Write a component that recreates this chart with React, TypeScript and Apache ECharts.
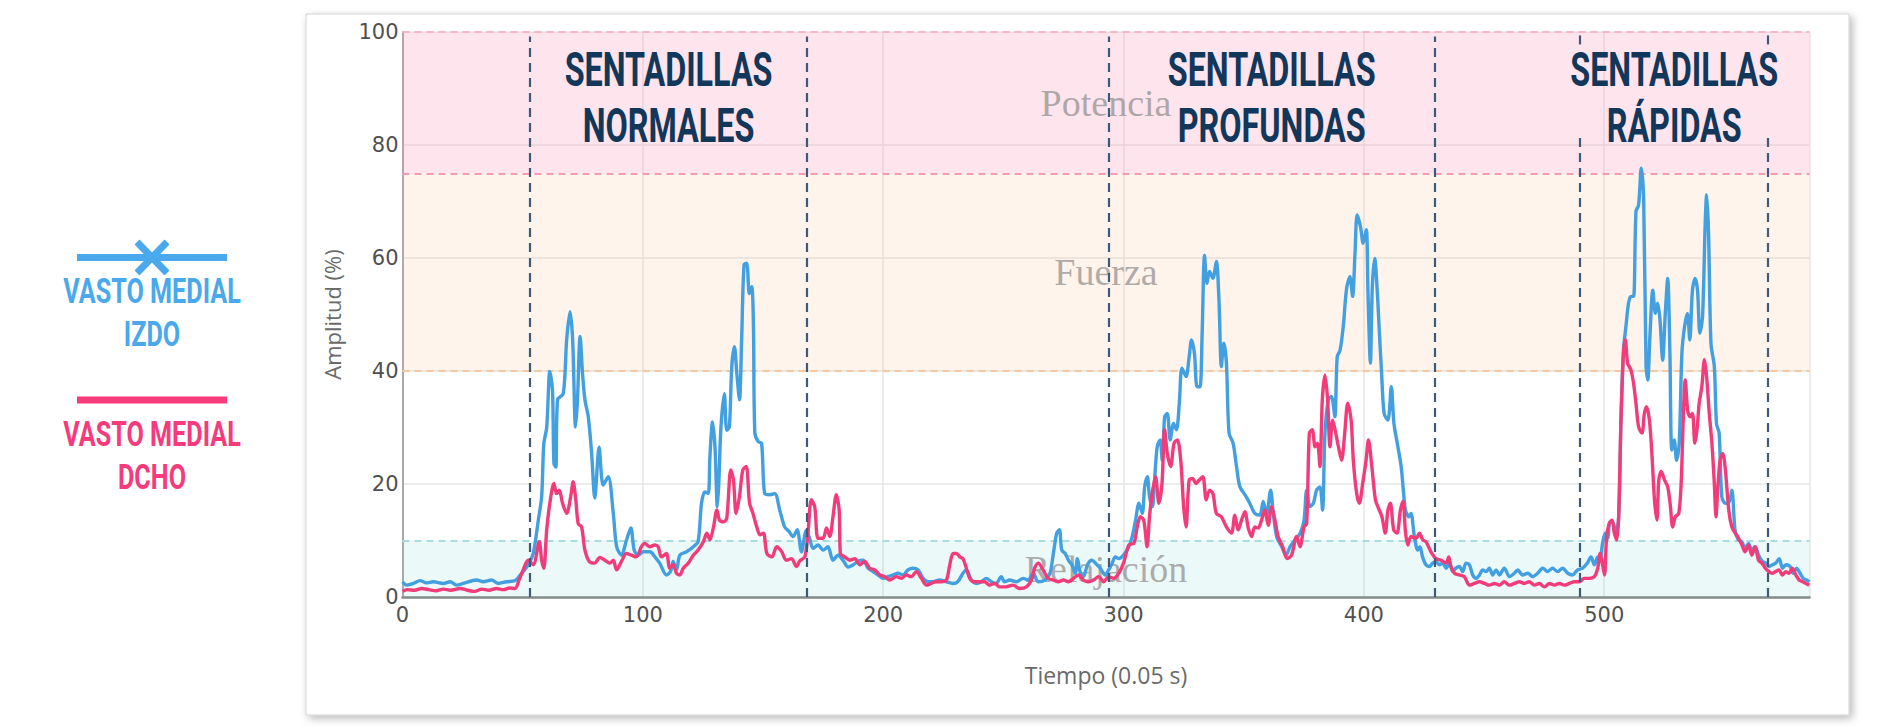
import React, { useEffect, useRef } from "react";
import * as echarts from "echarts";

// ---------- DATA ----------
const X_MAX = 585.4;
const Y_TICKS = [0, 20, 40, 60, 80, 100];

// Vasto medial izquierdo (blue) : [tiempo, amplitud]
const IZDO: [number, number][] = [
  [0, 2.7], [1.7, 2.1], [4.5, 2.4], [7.3, 2.9], [10, 2.5], [12.8, 2.7], [17, 2.4], [19.8, 2.7], [22.5, 2.1], [25.3, 2.4],
  [30.8, 3.0], [33.6, 2.7], [37, 3.0], [39.8, 2.4], [43.3, 2.7], [46.8, 2.9], [48.5, 3.6], [52.3, 5.7], [54.4, 7.7], [56.5, 13.6],
  [57.9, 17.8], [58.8, 27.2], [60, 30], [61.3, 39.9], [62.4, 36.6], [63, 23.7], [63.8, 23], [64.5, 34.9], [66.9, 36], [68.3, 45.5],
  [69.7, 50.5], [70.8, 45.5], [72, 30.1], [72.8, 34.9], [73.9, 46.1], [74.9, 39.6], [75.9, 34.9], [77.3, 31.9], [78.7, 25.4], [80, 17.5],
  [81.8, 26.5], [83.5, 19.8], [85.6, 21.3], [87.7, 14.8], [89.1, 8.9], [91.1, 7.4], [93.2, 10.1], [95, 12.2], [96.4, 8.3], [98, 7.4],
  [100.2, 8.0], [103, 8.0], [105, 7.1], [107, 6.0], [109.8, 3.9], [111.5, 4.5], [112.6, 6.3], [114, 4.8], [115.4, 7.4], [118.2, 8.0],
  [121, 8.9], [123, 9.8], [124.4, 16.6], [125.8, 18.6], [127.2, 18.3], [127.9, 24.8], [129, 31.0], [130, 26.6], [131, 16.0], [131.6, 20.1],
  [132.5, 30.1], [133.9, 36.0], [134.9, 29.5], [136, 30.1], [137, 40.8], [138.1, 44.3], [139.1, 39.6], [140.2, 34.9], [141.1, 45.5], [142.1, 58.8],
  [143.2, 59.1], [144.3, 53.7], [145.3, 54.9], [146, 48.4], [146.6, 29.0], [148, 27.5], [149.4, 27.2], [150.7, 18.3], [152.8, 18.1], [154.9, 18.3],
  [157, 15.3], [159, 12.4], [160.8, 11.6], [162.5, 10.7], [164.2, 11.9], [166, 8.0], [168, 11.8], [169.4, 10.4], [170.8, 8.6], [172.9, 9.2],
  [175, 8.3], [177, 8.9], [179.1, 6.5], [181.2, 7.4], [183.3, 6.5], [185.4, 5.3], [187.5, 5.7], [189.5, 6.3], [191.6, 6.5], [193.7, 5.1],
  [195.8, 4.5], [197.9, 3.9], [200, 3.3], [202, 3.6], [204.1, 3.9], [206.2, 4.2], [208.3, 3.9], [210.3, 4.8], [212.4, 5.1], [214.5, 4.8],
  [216.6, 3.3], [218.7, 2.7], [220.7, 2.7], [223.5, 3.0], [226.3, 2.7], [229, 2.4], [231, 2.7], [233.2, 4.2], [234.6, 4.8], [236.7, 3.0],
  [238.8, 2.4], [240.8, 2.7], [242.9, 3.3], [245, 2.7], [247, 2.4], [249.1, 3.6], [250.5, 2.7], [252.6, 3.0], [255.4, 2.7], [258.2, 3.3],
  [260.3, 3.0], [262.4, 4.2], [264.5, 2.7], [267.3, 3.0], [269.4, 4.2], [270.8, 7.7], [272.2, 11.3], [273.3, 11.9], [274.3, 8.3], [275.7, 7.7],
  [277.1, 6.5], [278.5, 5.7], [279.9, 4.2], [280.8, 6.8], [281.9, 4.5], [283.3, 3.6], [285, 5.7], [286.8, 6.5], [288.9, 5.7], [290.3, 5.1],
  [292.4, 3.9], [293.8, 4.8], [295, 5.7], [296.6, 7.1], [298, 6.8], [300, 7.4], [302.2, 8.9], [303.6, 10.7], [305, 13.6], [306.4, 16.6],
  [307.8, 14.8], [308.8, 19.5], [309.9, 21.3], [310.8, 17.8], [312, 16.0], [312.9, 20.7], [314, 26.6], [315.2, 27.8], [316.1, 24.2], [317.1, 31.9],
  [318.2, 32.5], [319.4, 27.8], [320.8, 30.7], [322, 29.6], [323.2, 34.3], [324.3, 40.5], [326, 39.0], [327.3, 42.5], [328.3, 45.5], [329.5, 43.1],
  [330.6, 37.2], [331.8, 37.2], [332.7, 46.7], [333.7, 60.5], [334.7, 55.5], [335.8, 57.6], [337.2, 56.4], [338.6, 59.4], [339.7, 52.6], [340.7, 40.8],
  [341.7, 44.9], [342.8, 41.4], [343.9, 29.0], [345.6, 27.2], [347, 23.1], [348.4, 19.5], [350.5, 18.1], [352.5, 16.6], [354.6, 14.8], [356.7, 14.5],
  [358.1, 16.9], [359.5, 14.5], [361.2, 18.9], [362.3, 14.8], [363.7, 10.7], [365.8, 8.9], [367.6, 7.4], [369.3, 8.9], [371.4, 10.1], [373.5, 11.3],
  [375.1, 13.6], [376.2, 18.9], [377.6, 16.0], [379, 16.6], [380.3, 18.9], [381.7, 19.5], [382.8, 15.4], [383.8, 29.0], [385.2, 34.9], [386.5, 35.5],
  [387.9, 31.9], [388.9, 42.5], [390.1, 43.7], [391.4, 47.8], [392.8, 54.6], [394.2, 56.7], [395.3, 53.2], [396.3, 60.8], [397.2, 67.6], [398.6, 65.5],
  [399.7, 62.6], [401, 65.0], [401.7, 53.8], [402.7, 41.4], [403.5, 54.9], [404.5, 59.9], [405.6, 53.8], [406.6, 45.5], [407.3, 40.2], [408.4, 32.5],
  [410, 31.3], [411.4, 37.2], [412.5, 30.7], [413.9, 27.2], [415.5, 23.1], [416.5, 18.5], [417.3, 15.4], [418.7, 14.2], [419.6, 14.8], [421, 10.7],
  [422.4, 8.3], [423.3, 8.9], [424.4, 7.1], [425.8, 5.7], [427.2, 5.4], [428.6, 6.0], [430, 6.3], [431.4, 5.7], [432.8, 6.0], [434.2, 5.1],
  [435.6, 6.0], [437, 4.5], [438.3, 5.1], [439.7, 5.4], [441.1, 4.5], [442.5, 6.0], [443.9, 5.7], [445.3, 3.9], [446.7, 3.3], [448.1, 3.9],
  [449.4, 4.8], [450.8, 4.5], [452.2, 5.1], [453.6, 3.9], [455, 4.8], [456.4, 3.9], [458.4, 5.1], [460.6, 3.6], [462.6, 4.2], [464, 4.8],
  [466, 3.9], [468.2, 4.2], [470.2, 3.6], [472.3, 4.2], [474.4, 5.1], [476.4, 4.5], [478.5, 5.1], [480.6, 4.5], [482.7, 5.1], [484.8, 4.2],
  [486.8, 3.9], [488.9, 4.8], [491, 5.1], [493, 6.0], [494.5, 7.1], [495.9, 5.7], [497.3, 7.1], [498.2, 6.5], [499.3, 9.5], [500.4, 11.3],
  [501.4, 10.4], [502.4, 13.3], [503.8, 13.0], [504.9, 11.3], [506, 14.2], [507, 31.9], [508, 43.7], [509, 47.8], [510.1, 52.0], [511.1, 53.2],
  [512.2, 53.2], [513.2, 68.2], [514.3, 69.4], [515.4, 75.9], [516.4, 70.3], [517.4, 40.8], [518.1, 38.4], [519, 46.1], [520.2, 54.3], [521.3, 50.2],
  [522.2, 52.0], [523.2, 49.0], [524.3, 41.9], [525.4, 50.2], [526.4, 56.4], [527.3, 43.7], [528.1, 26.0], [529.1, 27.8], [530.1, 24.2], [531.2, 27.2],
  [532.3, 43.1], [533.4, 47.8], [534.6, 50.2], [535.6, 45.5], [536.7, 54.3], [537.8, 56.4], [538.8, 54.3], [539.8, 46.7], [540.9, 49.6], [542, 66.1],
  [542.6, 71.2], [543.4, 64.4], [544.4, 44.9], [545.8, 40.8], [546.7, 30.7], [547.8, 29.0], [548.9, 17.8], [550.3, 16.6], [551.7, 16.6], [553.1, 18.9],
  [554.4, 11.9], [555.8, 10.1], [557.2, 9.8], [558.6, 8.6], [560, 9.5], [561.4, 8.3], [562.8, 8.9], [564.2, 7.4], [565.8, 6.3], [567.2, 6.0],
  [568.6, 5.4], [570, 5.7], [571.4, 6.0], [572.8, 6.8], [574.2, 5.1], [575.6, 5.7], [577.3, 5.4], [578.6, 4.2], [580, 5.1], [581.5, 4.2],
  [582.8, 3.3], [584.2, 3.0], [585.4, 2.7],
];

// Vasto medial derecho (pink) : [tiempo, amplitud]
const DCHO: [number, number][] = [
  [0, 1.0], [2, 1.3], [5, 1.2], [8, 1.5], [11, 1.3], [14, 1.1], [17, 1.4], [20, 1.2], [24, 1.5], [27, 1.2],
  [30, 1.0], [33, 1.4], [36, 1.2], [39, 1.5], [42, 1.3], [44.5, 1.6], [46.8, 1.5], [48.5, 3.0], [50.2, 4.8], [52.3, 6.5],
  [54.4, 5.7], [56.9, 9.8], [57.9, 6.5], [58.8, 5.1], [60, 11.9], [61.3, 16.6], [63, 20.1], [64.1, 18.3], [65.2, 18.9], [66.6, 16.6],
  [68.3, 14.8], [70, 17.8], [71, 20.4], [72.1, 17.2], [73.1, 13.0], [74.5, 12.4], [75.9, 8.3], [77.7, 6.3], [80, 6.0], [82.1, 7.0],
  [84.2, 6.5], [86.3, 6.0], [87.7, 6.5], [89.1, 4.8], [91.1, 6.3], [93.2, 7.7], [95.2, 7.4], [97.3, 7.1], [99.4, 8.9], [100.8, 9.5],
  [102.9, 8.9], [105, 9.2], [106.4, 8.9], [107.7, 7.1], [109.8, 7.7], [111.2, 5.1], [112.6, 5.7], [114, 4.2], [115.4, 3.9], [116.8, 5.1],
  [118.9, 6.0], [121, 7.4], [123, 8.3], [125.2, 9.8], [126.6, 11.3], [127.9, 10.1], [129.4, 12.4], [130.8, 15.4], [131.9, 13.6], [133.6, 13.3],
  [134.9, 13.9], [136.6, 22.5], [137.7, 20.7], [138.8, 14.8], [140.2, 17.8], [141.6, 22.5], [143, 23.1], [144.4, 16.6], [145.8, 14.8], [147.4, 12.4],
  [148.8, 11.0], [150.2, 11.3], [151.6, 7.7], [153.7, 7.1], [155.7, 8.9], [157.8, 8.0], [159.7, 6.5], [161.8, 6.8], [163.9, 5.4], [165.3, 6.4],
  [167.4, 7.1], [168.7, 11.3], [170.1, 17.2], [171.5, 16.0], [172.9, 10.4], [175, 10.4], [176.4, 12.2], [177.8, 10.7], [179.1, 14.2], [180.5, 18.1],
  [181.7, 15.3], [182.2, 7.7], [184, 7.1], [186.1, 6.5], [188.2, 6.8], [190.3, 5.7], [192.3, 6.3], [194.4, 5.1], [196.5, 4.8], [198.6, 3.9],
  [200.7, 3.6], [202.7, 3.0], [205.5, 3.6], [207.6, 3.3], [209.6, 3.9], [211.7, 3.6], [213.8, 4.5], [215.9, 3.3], [218, 2.1], [220, 2.4],
  [222.1, 2.7], [224.2, 2.7], [226.3, 3.0], [227.7, 5.7], [229.1, 7.7], [230.5, 7.7], [231.9, 7.1], [233.2, 6.8], [234.6, 5.1], [236, 3.3],
  [238, 2.7], [240.1, 2.7], [242.2, 2.7], [244.3, 2.1], [246.4, 2.4], [248.4, 1.8], [251.2, 1.8], [254, 2.1], [256.8, 1.5], [259.6, 1.8],
  [261.7, 3.0], [263, 5.1], [264.5, 6.0], [266.5, 4.8], [268.6, 3.3], [270.8, 3.0], [272.9, 2.7], [275, 3.0], [277.1, 2.7], [279.2, 3.3],
  [281.3, 3.9], [283.3, 3.0], [285.4, 2.7], [287.5, 3.0], [289.6, 3.6], [291.7, 2.7], [293.8, 3.6], [295.9, 3.3], [298, 4.2], [300, 6.0],
  [302.2, 9.2], [304.3, 9.5], [305.7, 12.4], [307, 14.2], [308.4, 13.6], [309.8, 8.9], [310.8, 14.2], [311.9, 18.3], [313.3, 21.3], [314.7, 16.6],
  [316, 20.1], [317.1, 29.6], [318.2, 25.4], [319.6, 23.1], [321, 27.2], [322.4, 27.8], [323.8, 24.2], [325, 16.0], [326, 12.4], [327.3, 20.7],
  [328.7, 21.0], [330.1, 20.1], [331.5, 20.7], [333, 21.3], [334.4, 17.2], [335.8, 18.9], [337.2, 18.3], [338.6, 14.8], [340.7, 14.2], [342.8, 12.4],
  [344.9, 11.3], [346.3, 14.5], [347.7, 11.9], [349.1, 13.6], [350.5, 15.1], [351.9, 12.2], [353.3, 10.7], [354.6, 12.4], [356, 12.2], [357.4, 13.6],
  [358.8, 15.4], [360.2, 12.7], [361.6, 16.0], [363, 13.6], [364.3, 10.7], [366.2, 8.9], [368.1, 6.8], [369.9, 7.4], [372, 10.7], [373.4, 8.9],
  [375.1, 12.4], [376.2, 13.0], [377.3, 29.0], [378.5, 29.6], [379.7, 26.6], [380.7, 27.2], [381.7, 23.1], [382.7, 34.9], [383.8, 39.3], [384.9, 34.9],
  [385.9, 26.6], [387, 31.3], [388, 29.6], [389.4, 26.6], [390.7, 24.2], [391.9, 28.4], [393.3, 34.3], [394.7, 31.3], [395.6, 24.2], [397, 18.3],
  [398.1, 16.6], [399.5, 20.1], [400.9, 24.2], [401.9, 27.8], [403.3, 23.1], [404.8, 17.2], [406.1, 15.7], [407.5, 14.2], [408.9, 11.3], [410, 15.4],
  [411, 16.6], [412.4, 11.9], [413.8, 11.3], [415.2, 15.4], [416.3, 16.9], [417.3, 11.5], [418.3, 9.2], [419.6, 10.7], [421.7, 10.4], [423.1, 11.3],
  [424.5, 10.1], [425.8, 9.8], [427.9, 8.0], [430, 6.8], [432.1, 6.5], [434.2, 6.0], [435.3, 7.1], [436.2, 5.4], [437.7, 4.2], [439.7, 3.9],
  [441.8, 3.6], [443.9, 2.1], [446, 2.4], [448.1, 2.7], [450.2, 2.4], [452.2, 2.1], [454.3, 2.4], [456.4, 2.1], [458.4, 2.7], [460.6, 2.1],
  [462.6, 2.4], [464.7, 2.7], [466.8, 2.4], [468.8, 2.7], [471, 2.1], [473, 2.4], [475.1, 1.8], [477.2, 2.4], [479.2, 2.1], [481.3, 2.4],
  [483.4, 2.1], [485.5, 2.4], [487.6, 2.7], [489.6, 2.7], [491.7, 3.3], [493.8, 3.3], [495.9, 3.6], [497.3, 5.1], [498.3, 7.7], [499.2, 6.0],
  [500.1, 3.9], [501, 10.7], [502.1, 13.0], [503.2, 13.6], [504.2, 11.3], [505.2, 10.1], [506, 14.2], [507, 31.9], [508, 43.1], [508.8, 45.5],
  [509.7, 41.4], [511.1, 40.2], [512.2, 37.8], [513.2, 34.3], [514.3, 30.1], [515.7, 29.0], [516.7, 32.5], [517.6, 33.7], [518.8, 31.3], [519.9, 24.8],
  [520.9, 17.2], [521.9, 13.6], [522.7, 20.7], [523.7, 22.2], [525.1, 20.7], [526.4, 19.5], [527.4, 16.6], [528.5, 12.4], [529.6, 14.2], [531, 14.8],
  [532, 20.1], [532.9, 31.9], [533.7, 38.4], [534.7, 33.1], [535.7, 31.9], [536.7, 32.5], [537.7, 27.2], [538.6, 29.6], [539.5, 34.3], [540.6, 37.2],
  [541.7, 42.0], [542.6, 39.0], [543.7, 32.5], [544.8, 27.2], [545.8, 20.1], [546.5, 14.2], [547.2, 18.9], [548.2, 24.2], [549.3, 25.4], [550.4, 22.5],
  [551.8, 15.4], [553.1, 12.4], [554.5, 11.3], [555.9, 10.4], [557.3, 9.2], [558.6, 8.0], [560, 9.2], [561.4, 7.4], [562.8, 8.9], [564.2, 6.5],
  [565.6, 6.0], [567, 5.1], [568.5, 4.5], [569.9, 4.2], [571.3, 4.5], [572.7, 4.8], [574.1, 3.9], [575.5, 4.5], [576.9, 4.2], [578.3, 5.1],
  [579.7, 3.9], [581.1, 3.0], [582.5, 2.7], [583.9, 2.4], [585.3, 2.1],
];

// Zones of amplitude
const ZONE_NAMES = ["Relajación", "Fuerza", "Potencia"];
const ZONE_FROM = [0, 40, 75];
const ZONE_TO = [10, 75, 100];
// dashed boundary levels
const ZONE_EDGES = [10, 40, 75, 100];

// Phase boundaries (tiempo)
const PHASE_LINES = [53, 168.4, 294, 429.3];
const RAPIDAS_LINES = [490, 568.2];

// Exercise titles
const GROUP_LINE1 = ["SENTADILLAS", "SENTADILLAS", "SENTADILLAS"];
const GROUP_LINE2 = ["NORMALES", "PROFUNDAS", "RÁPIDAS"];
const GROUP_FROM = [53, 294, 490];
const GROUP_TO = [168.4, 429.3, 568.2];

const LEGEND_LABELS = [["VASTO MEDIAL", "IZDO"], ["VASTO MEDIAL", "DCHO"]];

// ---------- STYLE ----------
const BLUE = "#429fe0";
const PINK = "#f23c79";
const LEG_BLUE = "#4aa8ec";
const LEG_PINK = "#f63a7b";
const NAVY = "#11375a";
const DASH_NAVY = "#3f5a78";
const ZONE_FILL = ["rgba(120,210,210,0.14)", "rgba(250,190,140,0.17)", "rgba(248,150,185,0.26)"];
const EDGE_COLOR = ["#a8dcdc", "#f7c89f", "#f49ab4", "#f7b6c8"];

export default function App() {
  const ref = useRef<HTMLDivElement>(null);

  useEffect(() => {
    if (!ref.current) return;
    const chart = echarts.init(ref.current, null, { renderer: "svg" });

    const zoneAreas = ZONE_NAMES.map((n, i) => [
      {
        name: n,
        yAxis: ZONE_FROM[i],
        itemStyle: { color: ZONE_FILL[i] },
      },
      { yAxis: ZONE_TO[i] },
    ]);

    const zoneLines: any[] = ZONE_EDGES.map((v, i) => ({
      yAxis: v,
      lineStyle: { color: EDGE_COLOR[i] },
    }));

    const phaseLines: any[] = PHASE_LINES.map((t) => [
      { coord: [t, 0] },
      { coord: [t, 99.2] },
    ]);
    RAPIDAS_LINES.forEach((t) => {
      phaseLines.push([{ coord: [t, 0] }, { coord: [t, 82.2] }]);
      phaseLines.push([{ coord: [t, 97.8] }, { coord: [t, 100] }]);
    });

    const option: any = {
      animation: false,
      grid: { left: 402.5, right: 76.5, top: 32, bottom: 131, containLabel: false },
      xAxis: {
        type: "value",
        min: 0,
        max: X_MAX,
        interval: 100,
        name: "Tiempo (0.05 s)",
        nameLocation: "middle",
        nameGap: 66,
        nameTextStyle: { fontFamily: "Open Sans", fontSize: 23, color: "#6a6a6a" },
        axisLine: { show: true, lineStyle: { color: "#888", width: 2.5 } },
        axisTick: { show: false },
        axisLabel: {
          fontFamily: "DejaVu Sans",
          fontSize: 21,
          color: "#505050",
          margin: 7,
          formatter: (v: number) => (v % 100 === 0 ? String(v) : ""),
        },
        splitLine: { show: true, lineStyle: { color: "#e6e6e6", width: 1.5 } },
      },
      yAxis: {
        type: "value",
        min: Y_TICKS[0],
        max: Y_TICKS[Y_TICKS.length - 1],
        interval: 20,
        name: "Amplitud (%)",
        nameLocation: "middle",
        nameGap: 60,
        nameRotate: 90,
        nameTextStyle: { fontFamily: "Open Sans", fontSize: 22, color: "#6a6a6a" },
        axisLine: { show: true, lineStyle: { color: "#a8a8a8", width: 2 } },
        axisTick: { show: false },
        axisLabel: { fontFamily: "DejaVu Sans", fontSize: 21, color: "#505050", margin: 4 },
        splitLine: { show: true, lineStyle: { color: "#e6e6e6", width: 1.5 } },
      },
      series: [
        {
          type: "line",
          name: "zonas",
          data: [],
          silent: true,
          z: 1,
          markArea: {
            silent: true,
            z: 1,
            label: {
              show: true,
              position: "inside",
              fontFamily: "Liberation Serif",
              fontSize: 38,
              color: "rgba(150,146,146,0.75)",
            },
            data: zoneAreas,
          },
          markLine: {
            silent: true,
            z: 1,
            symbol: ["none", "none"],
            label: { show: false },
            lineStyle: { type: [7, 5], width: 2 },
            data: zoneLines,
          },
        },
        {
          type: "line",
          name: "VASTO MEDIAL IZDO",
          data: IZDO,
          showSymbol: false,
          symbol: "none",
          smooth: 0.3,
          z: 3,
          lineStyle: { color: BLUE, width: 3.4 },
          itemStyle: { color: BLUE },
        },
        {
          type: "line",
          name: "VASTO MEDIAL DCHO",
          data: DCHO,
          showSymbol: false,
          symbol: "none",
          smooth: 0.3,
          z: 4,
          lineStyle: { color: PINK, width: 3.4 },
          itemStyle: { color: PINK },
        },
        {
          type: "line",
          name: "fases",
          data: [],
          silent: true,
          z: 6,
          markLine: {
            silent: true,
            z: 6,
            symbol: ["none", "none"],
            label: { show: false },
            lineStyle: { color: DASH_NAVY, type: [9, 6], width: 2.2 },
            data: phaseLines,
          },
        },
      ],
    };

    chart.setOption(option);

    const toPx = (t: number, v: number) =>
      chart.convertToPixel({ gridIndex: 0 }, [t, v]) as number[];

    const graphics: any[] = [];
    // panel
    graphics.push({
      type: "rect",
      z: -10,
      silent: true,
      shape: { x: 306, y: 14, width: 1543, height: 701 },
      style: {
        fill: "#fff",
        stroke: "#d2d2d2",
        lineWidth: 1,
        shadowBlur: 8,
        shadowOffsetX: 3,
        shadowOffsetY: 3,
        shadowColor: "rgba(0,0,0,0.28)",
      },
    });

    // titles
    GROUP_LINE1.forEach((l1, i) => {
      const tc = (GROUP_FROM[i] + GROUP_TO[i]) / 2;
      const p1 = toPx(tc, 93.5);
      const p2 = toPx(tc, 83.5);
      [
        [l1, p1],
        [GROUP_LINE2[i], p2],
      ].forEach(([txt, p]: any) => {
        graphics.push({
          type: "text",
          x: p[0],
          y: p[1],
          scaleX: 0.66,
          z: 50,
          silent: true,
          style: {
            text: txt,
            fill: NAVY,
            fontFamily: "Roboto",
            fontWeight: "bold",
            fontSize: 49,
            textAlign: "center",
            textVerticalAlign: "middle",
            verticalAlign: "middle",
          },
        });
      });
    });

    // custom legend
    const legColors = [LEG_BLUE, LEG_PINK];
    const legLineY = [257.5, 400];
    LEGEND_LABELS.forEach((lines, i) => {
      const c = legColors[i];
      const y = legLineY[i];
      graphics.push({
        type: "line",
        z: 50,
        silent: true,
        shape: { x1: 77, y1: y, x2: 227, y2: y },
        style: { stroke: c, lineWidth: 7 },
      });
      if (i === 0) {
        graphics.push({
          type: "line",
          z: 51,
          silent: true,
          shape: { x1: 137, y1: 242, x2: 167, y2: 273 },
          style: { stroke: c, lineWidth: 7 },
        });
        graphics.push({
          type: "line",
          z: 51,
          silent: true,
          shape: { x1: 167, y1: 242, x2: 137, y2: 273 },
          style: { stroke: c, lineWidth: 7 },
        });
      }
      lines.forEach((txt, j) => {
        graphics.push({
          type: "text",
          x: 152,
          y: y + 33.5 + j * 43,
          scaleX: 0.7,
          z: 50,
          silent: true,
          style: {
            text: txt,
            fill: c,
            fontFamily: "Roboto",
            fontWeight: "bold",
            fontSize: 36,
            textAlign: "center",
            textVerticalAlign: "middle",
            verticalAlign: "middle",
          },
        });
      });
    });

    chart.setOption({ graphic: graphics });

    return () => {
      chart.dispose();
    };
  }, []);

  return (
    <div
      ref={ref}
      style={{ position: "absolute", left: 0, top: 0, width: 1886, height: 728, background: "#fff" }}
    />
  );
}
